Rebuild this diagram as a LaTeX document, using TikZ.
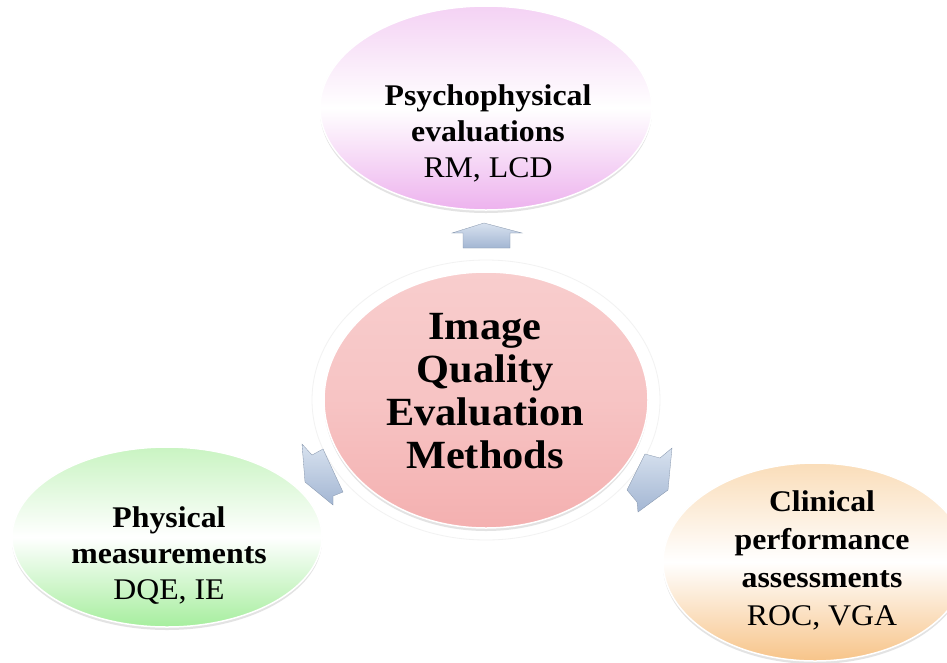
\documentclass[tikz,border=0pt]{standalone}
\usepackage{fontspec}
\setmainfont{Liberation Serif}[FakeStretch=1.06]
\usetikzlibrary{shapes.geometric,shadows}
\definecolor{vio}{HTML}{EDB2EE}
\definecolor{viotop}{HTML}{F4D2F4}
\definecolor{pnk}{HTML}{F4B0B0}
\definecolor{pnktop}{HTML}{F8CDCD}
\definecolor{grn}{HTML}{A6EE9E}
\definecolor{grntop}{HTML}{C9F4C2}
\definecolor{org}{HTML}{F7C489}
\definecolor{orgtop}{HTML}{FADDB9}
\definecolor{arr}{HTML}{A3B6D3}
\definecolor{arrtop}{HTML}{D8E2EF}
\tikzset{
  blob/.style={ellipse, inner sep=0pt, draw=white, line width=1.5pt,
    drop shadow={shadow xshift=0pt, shadow yshift=-3pt, opacity=0.18, fill=black!60}},
  subtxt/.style={align=center, inner sep=0pt, font=\fontsize{30}{36}\selectfont},
  maintxt/.style={align=center, inner sep=0pt, font=\fontsize{40}{43}\selectfont\bfseries},
  blockarrow/.style={top color=arrtop, bottom color=arr, draw=arr!80!black, line width=0.3pt}
}
\begin{document}
\begin{tikzpicture}[x=1pt,y=-1pt]
\useasboundingbox[fill=white] (0,0) rectangle (947,662);
\begin{scope}
\clip (0,0) rectangle (947,662);
% halo of central ellipse
\node[ellipse, inner sep=0pt, minimum width=348, minimum height=280, draw=black!5, line width=0.8pt, fill=white] (halo) at (486,400) {};
% ellipses
\node[blob, minimum width=332, minimum height=204, top color=viotop, bottom color=vio, middle color=white] (psy) at (486,108) {};
\node[blob, minimum width=324, minimum height=256, top color=pnktop, bottom color=pnk, middle color=pnk!75!white] (iq) at (486,400) {};
\node[blob, minimum width=310, minimum height=180, top color=grntop, bottom color=grn, middle color=white] (phy) at (167,537) {};
\node[blob, minimum width=304, minimum height=198, top color=orgtop, bottom color=org, middle color=white] (cli) at (815,562) {};
\end{scope}
% texts
\node[subtxt] (psytxt) at (488,133) {\textbf{Psychophysical}\\\textbf{evaluations}\\RM, LCD};
\node[maintxt] (iqtxt) at (485,391) {Image\\Quality\\Evaluation\\Methods};
\node[subtxt] (phytxt) at (169,556) {\textbf{Physical}\\\textbf{measurements}\\DQE, IE};
\node[subtxt, font=\fontsize{30}{38}\selectfont] (clitxt) at (822,560) {\textbf{Clinical}\\\textbf{performance}\\\textbf{assessments}\\ROC, VGA};
% block arrows
\coordinate (ta) at (484,223);
\draw[blockarrow] (452,233) -- (ta) -- (522,233) -- (510,233) -- (510,248) -- (463,248) -- (463,233) -- cycle;
\coordinate (la) at (302,444);
\draw[blockarrow] (la) -- (312,455) -- (323,449) -- (343,492) -- (333,496) -- (333,505) -- (305,482) -- cycle;
\coordinate (ra) at (672,448);
\draw[blockarrow] (645,454) -- (660,458) -- (ra) -- (668,490) -- (638,512) -- (637,502) -- (627,490) -- cycle;
\end{tikzpicture}
\end{document}
